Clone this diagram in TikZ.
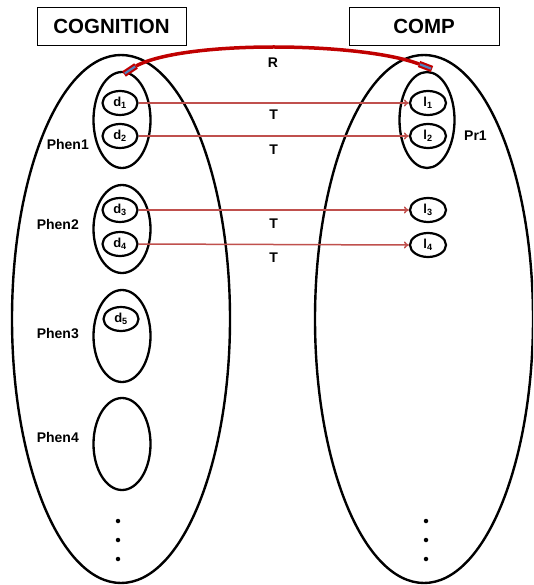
\documentclass[tikz,border=0pt]{standalone}
\usepackage{fontspec}
\setmainfont{Liberation Sans}
\usetikzlibrary{shapes.geometric,arrows.meta}
\definecolor{tred}{RGB}{192,80,77}
\definecolor{rred}{RGB}{192,0,0}
\definecolor{rblue}{RGB}{79,129,189}
\begin{document}
\begin{tikzpicture}[x=1pt,y=-1pt,
 big/.style={draw,ellipse,line width=2.4pt,minimum width=218pt,minimum height=528pt,inner sep=0pt},
 grp/.style={draw,ellipse,line width=2.3pt,minimum width=57pt,minimum height=92pt,inner sep=0pt},
 elem/.style={draw,ellipse,line width=2.2pt,minimum width=35pt,minimum height=24pt,inner sep=0pt,font=\bfseries\fontsize{13}{14}\selectfont},
 lab/.style={font=\bfseries\fontsize{14}{16}\selectfont,inner sep=0pt},
 titlebox/.style={draw,line width=0.9pt,minimum width=149pt,minimum height=38pt,inner sep=0pt,font=\bfseries\fontsize{20.5}{24}\selectfont},
 tarrow/.style={tred,line width=1.5pt,-{To[length=5pt,width=7pt]}},
 dotn/.style={circle,fill,inner sep=0pt,minimum size=4.5pt}
]
\useasboundingbox (0,0) rectangle (533,585);
\clip (0,0) rectangle (533,585);
\fill[white] (0,0) rectangle (533,585);
% titles
\node[titlebox] (cog) at (111.5,26) {COGNITION};
\node[titlebox,minimum width=150pt] (comp) at (424,26) {COMP};
% big ellipses
\node[big] (L) at (121,319) {};
\node[big] (Rt) at (424,319) {};
% groups left
\node[grp,minimum height=96pt] (P1) at (122,120) {};
\node[grp,minimum height=88pt] (P2) at (122,229) {};
\node[grp] (P3) at (122,336) {};
\node[grp] (P4) at (122,444) {};
% group right
\node[grp,minimum width=55pt,minimum height=96pt] (Pr) at (427,120) {};
% elements
\node[elem] (d1) at (120,103) {d\textsubscript{1}};
\node[elem] (d2) at (120,136) {d\textsubscript{2}};
\node[elem] (d3) at (120,210) {d\textsubscript{3}};
\node[elem] (d4) at (120,244) {d\textsubscript{4}};
\node[elem] (d5) at (121,319) {d\textsubscript{5}};
\node[elem,minimum width=36pt] (l1) at (428,103) {l\textsubscript{1}};
\node[elem,minimum width=36pt] (l2) at (428,136) {l\textsubscript{2}};
\node[elem,minimum width=36pt] (l3) at (428,210) {l\textsubscript{3}};
\node[elem,minimum width=36pt] (l4) at (428,245) {l\textsubscript{4}};
% labels
\node[lab,anchor=east] (t1) at (89,144) {Phen1};
\node[lab,anchor=east] (t2) at (79,224) {Phen2};
\node[lab,anchor=east] (t3) at (79,334) {Phen3};
\node[lab,anchor=east] (t4) at (79,437) {Phen4};
\node[lab,anchor=west] (tp) at (464,136) {Pr1};
% T arrows
\draw[tarrow] (d1) -- (l1) node[lab,black,pos=0.5,below=6pt] (T1) {T};
\draw[tarrow] (d2) -- (l2) node[lab,black,pos=0.5,below=8pt] (T2) {T};
\draw[tarrow] (d3.east) -- (l3.west) node[lab,black,pos=0.5,below=8pt] (T3) {T};
\draw[tarrow] (d4.east) -- (l4.west) node[lab,black,pos=0.5,below=8pt] (T4) {T};
% R relation
\coordinate (ra1) at (124,74);
\coordinate (ra2) at (136,66);
\coordinate (rb1) at (419,64);
\coordinate (rb2) at (432,69);
\draw[rred,line width=3.5pt] (ra2) .. controls (185,40) and (360,42) .. (rb1);
\draw[rred,line width=6.5pt] (ra1) -- (ra2);
\draw[rblue,line width=2.2pt,shorten <=1pt,shorten >=1pt] (ra1) -- (ra2);
\draw[rred,line width=6.5pt] (rb1) -- (rb2);
\draw[rblue,line width=2.2pt,shorten <=1pt,shorten >=1pt] (rb1) -- (rb2);
\node[lab] (Rl) at (273,63) {R};
% dots
\foreach \y [count=\i] in {521,540,559}{
  \node[dotn] (ld\i) at (118,\y) {};
  \node[dotn] (rd\i) at (426,\y) {};
}
\end{tikzpicture}
\end{document}
